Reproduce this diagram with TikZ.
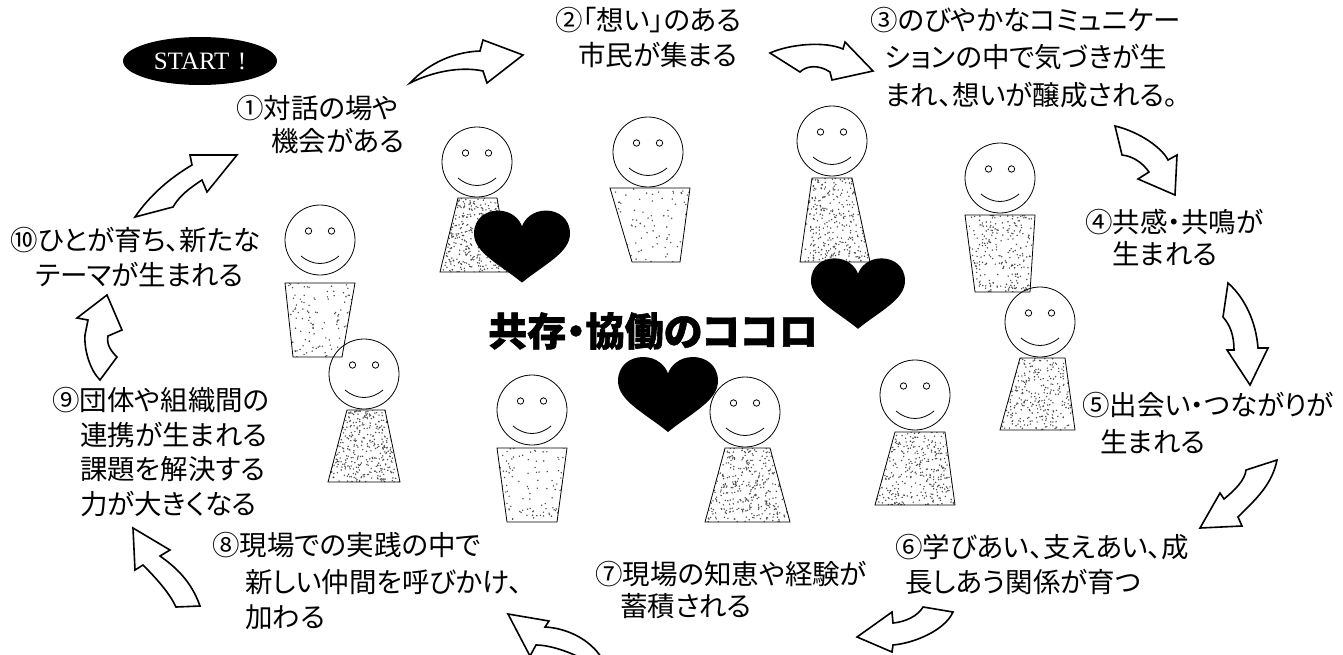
\documentclass[tikz,border=0pt]{standalone}
\usepackage{fontspec}
\usetikzlibrary{shapes.geometric}
\setmainfont{Liberation Serif}
\newfontfamily\jp[RawFeature=+palt]{Noto Sans CJK JP}
\begin{document}
\begin{tikzpicture}[x=1pt,y=-1pt,
  lbl/.style={anchor=west, inner sep=0pt, font=\jp\fontsize{27.5}{30}\selectfont},
  arr/.style={draw=black, fill=white, line width=1.6pt, line join=miter},
  outl/.style={draw=black, line width=0.8pt},
  dotc/.style={fill=black!70},
  heart/.pic={\fill[black] (0,0.72) .. controls (-0.45,0.35) and (-1,0.1) .. (-1,-0.3)
     .. controls (-1,-0.62) and (-0.75,-0.78) .. (-0.5,-0.78)
     .. controls (-0.22,-0.78) and (-0.05,-0.6) .. (0,-0.45)
     .. controls (0.05,-0.6) and (0.22,-0.78) .. (0.5,-0.78)
     .. controls (0.75,-0.78) and (1,-0.62) .. (1,-0.3)
     .. controls (1,0.1) and (0.45,0.35) .. (0,0.72) -- cycle;}]
\clip (0,0) rectangle (1343,654);
\fill[white] (0,0) rectangle (1343,654);

% a figure: head centre, body corners (top left/right, bottom left/right), body top/bottom, dots
\newcommand\person[9]{%
  \begin{scope}
    \clip (#3,#7) -- (#4,#7) -- (#6,#8) -- (#5,#8) -- cycle;
    \foreach \k in {1,...,#9}
      \fill[dotc] ({min(#3,#5)+rnd*(max(#4,#6)-min(#3,#5))},{#7+rnd*(#8-#7)}) circle[radius=0.8];
  \end{scope}
  \draw[outl] (#3,#7) -- (#4,#7) -- (#6,#8) -- (#5,#8) -- cycle;
  \draw[outl] (#1,#2) circle[radius=35];
  \draw[outl] (#1-11.5,#2-9) circle[radius=3.2];
  \draw[outl] (#1+11.5,#2-9) circle[radius=3.2];
  \draw[outl] (#1-19,#2+16) .. controls (#1-7,#2+26) and (#1+7,#2+26) .. (#1+19,#2+16);
}
\pgfmathsetseed{7}

% figures
\person{477}{162}{458}{497}{440}{510}{198}{272}{420}
\person{648}{152}{610}{690}{632}{680}{188}{262}{90}
\person{832}{141}{812}{852}{800}{870}{178}{262}{380}
\person{1000}{178}{965}{1035}{975}{1030}{215}{292}{260}
\person{1040}{322}{1020}{1065}{1000}{1075}{358}{430}{330}
\person{320}{240}{285}{355}{293}{342}{283}{357}{110}
\person{364}{374}{347}{385}{328}{400}{410}{482}{420}
\person{532}{410}{497}{567}{507}{557}{448}{522}{110}
\person{745}{412}{725}{770}{705}{790}{448}{522}{420}
\person{915}{395}{895}{945}{875}{955}{432}{505}{400}

% hearts
\pic[scale=48] at (522,248) {heart};
\pic[scale=47] at (858,295) {heart};
\pic[scale=50] at (668,396) {heart};

% start badge
\node[ellipse, fill=black, minimum width=154pt, minimum height=48pt, inner sep=0pt,
  text=white, font=\fontsize{25}{28}\selectfont] (start) at (200,61) {START\,\,!};

% block arrows between the steps
\draw[arr] (410,83) .. controls (430,62) and (455,52) .. (480,51) -- (483,40) -- (523,55)
  -- (487,83) -- (483,71) .. controls (460,66) and (432,72) .. (410,83) -- cycle;
\draw[arr] (770,53) .. controls (790,44) and (825,41) .. (843,49) -- (845,42) -- (873,71)
  -- (832,80) -- (830,72) .. controls (818,64) and (806,66) .. (800,72) -- cycle;
\draw[arr] (1115,126) .. controls (1140,132) and (1162,148) .. (1168,160) -- (1177,155)
  -- (1175,195) -- (1138,179) -- (1149,172) .. controls (1142,162) and (1132,156) .. (1122,155) -- cycle;
\draw[arr] (1228,283) .. controls (1245,298) and (1256,322) .. (1258,348) -- (1268,348)
  -- (1250,385) -- (1227,350) -- (1234,350) .. controls (1234,335) and (1230,325) .. (1223,317) -- cycle;
\draw[arr] (1277,460) .. controls (1272,485) and (1255,500) .. (1238,517) -- (1242,526)
  -- (1200,528) -- (1220,493) -- (1224,499) .. controls (1235,490) and (1245,480) .. (1246,470) -- cycle;
\draw[arr] (923,607) -- (953,612) .. controls (945,630) and (915,643) .. (893,645) -- (892,652)
  -- (857,637) -- (892,612) -- (893,623) .. controls (905,622) and (918,616) .. (923,607) -- cycle;
\draw[arr] (508,614) -- (549,621) -- (545,627) .. controls (565,628) and (590,638) .. (603,660)
  -- (585,660) .. controls (570,652) and (550,645) .. (536,645) -- (530,656) -- cycle;
\draw[arr] (133,528) -- (170,550) -- (160,556) .. controls (174,566) and (191,580) .. (200,606)
  -- (176,607) .. controls (170,594) and (158,580) .. (143,565) -- (135,570) -- cycle;
\draw[arr] (107,295) -- (122,330) -- (108,336) .. controls (106,345) and (112,352) .. (117,357)
  -- (100,380) .. controls (90,370) and (84,350) .. (85,335) -- (88,320) -- (77,318) -- cycle;
\draw[arr] (135,217) .. controls (150,195) and (170,178) .. (192,165) -- (190,155) -- (237,155)
  -- (207,192) -- (202,180) .. controls (190,188) and (180,195) .. (173,207) -- cycle;

% step labels
\node[lbl] (s1a) at (236,108) {①対話の場や};
\node[lbl] (s1b) at (271,141) {機会がある};
\node[lbl] (s2a) at (555,20) {②「想い」のある};
\node[lbl] (s2b) at (578,55) {市民が集まる};
\node[lbl] (s3a) at (870,20) {③のびやかなコミュニケー};
\node[lbl] (s3b) at (885,57) {ションの中で気づきが生};
\node[lbl] (s3c) at (885,95) {まれ、想いが醸成される。};
\node[lbl] (s4a) at (1085,222) {④共感・共鳴が};
\node[lbl] (s4b) at (1112,254) {生まれる};
\node[lbl] (s5a) at (1082,405) {⑤出会い・つながりが};
\node[lbl] (s5b) at (1100,442) {生まれる};
\node[lbl] (s6a) at (895,547) {⑥学びあい、支えあい、成};
\node[lbl] (s6b) at (905,582) {長しあう関係が育つ};
\node[lbl] (s7a) at (595,574) {⑦現場の知恵や経験が};
\node[lbl] (s7b) at (620,606) {蓄積される};
\node[lbl] (s8a) at (212,545) {⑧現場での実践の中で};
\node[lbl] (s8b) at (245,582) {新しい仲間を呼びかけ、};
\node[lbl] (s8c) at (245,617) {加わる};
\node[lbl] (s9a) at (52,400) {⑨団体や組織間の};
\node[lbl] (s9b) at (80,435) {連携が生まれる};
\node[lbl] (s9c) at (80,469) {課題を解決する};
\node[lbl] (s9d) at (80,504) {力が大きくなる};
\node[lbl] (s10a) at (10,240) {⑩ひとが育ち、新たな};
\node[lbl] (s10b) at (35,275) {テーマが生まれる};

% centre title
\node[anchor=west, inner sep=0pt, font=\jp\bfseries\addfontfeature{FakeBold=1.5}\fontsize{39}{42}\selectfont] (title) at (488,331) {共存・協働のココロ};
\end{tikzpicture}
\end{document}
